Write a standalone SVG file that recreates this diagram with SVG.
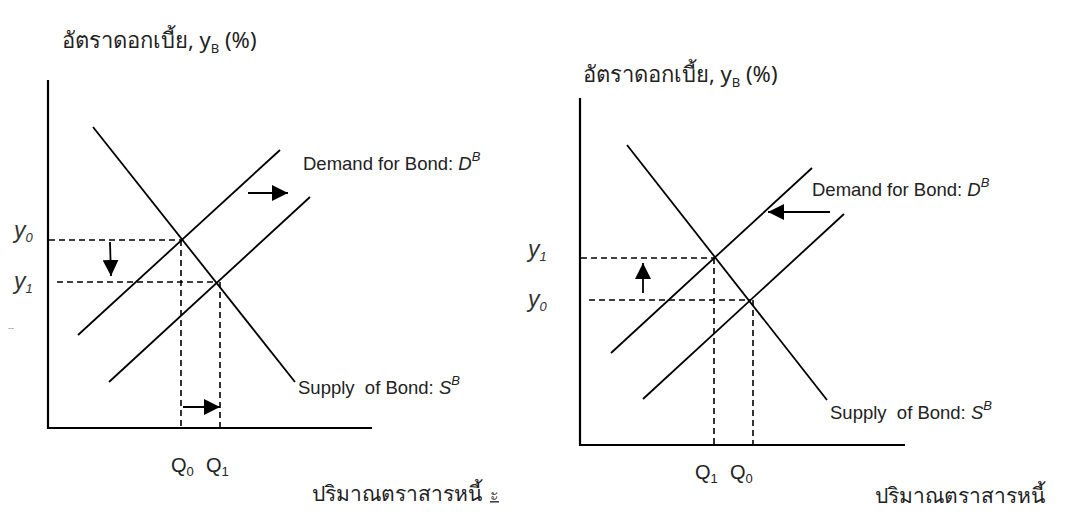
<svg xmlns="http://www.w3.org/2000/svg" width="1076" height="514" viewBox="0 0 1076 514">
<style>
.ax{stroke:#000;stroke-width:2.2;fill:none}
.ln{stroke:#000;stroke-width:1.8;fill:none}
.ds{stroke:#000;stroke-width:1.6;fill:none;stroke-dasharray:6,4}
.ar{stroke:#000;stroke-width:1.8;fill:none}
.t{font-family:"Liberation Sans","Noto Sans",sans-serif;font-size:18.5px;fill:#222}
.q{font-family:"Liberation Sans","Noto Sans",sans-serif;font-size:20px;fill:#222}
.th{font-family:"Noto Sans","DejaVu Sans",sans-serif;font-size:22px;fill:#222}
.thb{font-family:"Noto Sans","DejaVu Sans",sans-serif;font-size:21px;fill:#222}
.yl{font-family:"Liberation Sans",sans-serif;font-size:23px;font-style:italic;fill:#333}
.sub{font-size:13px}
.i{font-style:italic}
</style>
<defs>
<marker id="ahb" viewBox="0 0 10 10" refX="10" refY="5" markerWidth="16" markerHeight="16" markerUnits="userSpaceOnUse" orient="auto"><path d="M0,0 L10,5 L0,10 z" fill="#000"/></marker>
</defs>

<g id="left-chart">
<g id="left-axes">
<line class="ax" x1="48" y1="80" x2="48" y2="429"/>
<line class="ax" x1="47" y1="428" x2="372" y2="428"/>
</g>
<g id="left-supply"><line class="ln" x1="93" y1="127" x2="295" y2="382"/></g>
<g id="left-demand0"><line class="ln" x1="78" y1="335" x2="280" y2="150"/></g>
<g id="left-demand1"><line class="ln" x1="109" y1="382" x2="310" y2="197"/></g>
<g id="left-labels">
<text class="th" x="62" y="48">อัตราดอกเบี้ย, y<tspan class="sub" dy="5">B</tspan><tspan dy="-5"> (%)</tspan></text>
<text class="yl" x="14" y="238">y<tspan class="sub" dy="4">0</tspan></text>
<text class="yl" x="14" y="289">y<tspan class="sub" dy="4">1</tspan></text>
<text class="t" x="303" y="170">Demand for Bond: <tspan class="i">D</tspan><tspan class="i sub" dy="-9">B</tspan></text>
<text class="t" x="298" y="394" xml:space="preserve">Supply  of Bond: <tspan class="i">S</tspan><tspan class="i sub" dy="-9">B</tspan></text>
<text class="q" x="171" y="472">Q<tspan class="sub" dy="4">0</tspan></text>
<text class="q" x="206" y="472">Q<tspan class="sub" dy="4">1</tspan></text>
<text class="thb" x="312" y="501">ปริมาณตราสารหนี้</text>
<text x="490" y="500" style="font-family:'Noto Sans',sans-serif;font-size:16px;fill:#444;text-decoration:underline">ะ</text>
<text x="8" y="331" style="font-family:'Liberation Sans',sans-serif;font-size:9px;fill:#888">--</text>
</g>
</g>

<g id="right-chart">
<g id="right-axes">
<line class="ax" x1="580" y1="98" x2="580" y2="446"/>
<line class="ax" x1="579" y1="445" x2="905" y2="445"/>
</g>
<g id="right-supply"><line class="ln" x1="627" y1="145" x2="827" y2="400"/></g>
<g id="right-demand1"><line class="ln" x1="611" y1="353" x2="812" y2="168"/></g>
<g id="right-demand0"><line class="ln" x1="643" y1="399" x2="844" y2="214"/></g>
<g id="right-labels">
<text class="th" x="583" y="82">อัตราดอกเบี้ย, y<tspan class="sub" dy="5">B</tspan><tspan dy="-5"> (%)</tspan></text>
<text class="yl" x="528" y="257">y<tspan class="sub" dy="4">1</tspan></text>
<text class="yl" x="528" y="307">y<tspan class="sub" dy="4">0</tspan></text>
<text class="t" x="812" y="196">Demand for Bond: <tspan class="i">D</tspan><tspan class="i sub" dy="-9">B</tspan></text>
<text class="t" x="830" y="419" xml:space="preserve">Supply  of Bond: <tspan class="i">S</tspan><tspan class="i sub" dy="-9">B</tspan></text>
<text class="q" x="695" y="479">Q<tspan class="sub" dy="4">1</tspan></text>
<text class="q" x="730" y="479">Q<tspan class="sub" dy="4">0</tspan></text>
<text class="thb" x="875" y="503">ปริมาณตราสารหนี้</text>
</g>
</g>

<g id="connectors">
<line class="ds" x1="49" y1="240" x2="181" y2="240"/>
<line class="ds" x1="57" y1="282" x2="218" y2="282"/>
<line class="ds" x1="181" y1="240" x2="181" y2="428"/>
<line class="ds" x1="220" y1="282" x2="220" y2="428"/>
<line class="ar" x1="110" y1="242" x2="111" y2="276" marker-end="url(#ahb)"/>
<line class="ar" x1="183" y1="407" x2="220" y2="407" marker-end="url(#ahb)"/>
<line class="ar" x1="248" y1="193" x2="288" y2="193" marker-end="url(#ahb)"/>

<line class="ds" x1="581" y1="258" x2="715" y2="258"/>
<line class="ds" x1="589" y1="300" x2="751" y2="300"/>
<line class="ds" x1="714" y1="258" x2="714" y2="445"/>
<line class="ds" x1="753" y1="300" x2="753" y2="445"/>
<line class="ar" x1="643" y1="293" x2="643" y2="263" marker-end="url(#ahb)"/>
<line class="ar" x1="830" y1="212" x2="768" y2="212" marker-end="url(#ahb)"/>
</g>
</svg>
